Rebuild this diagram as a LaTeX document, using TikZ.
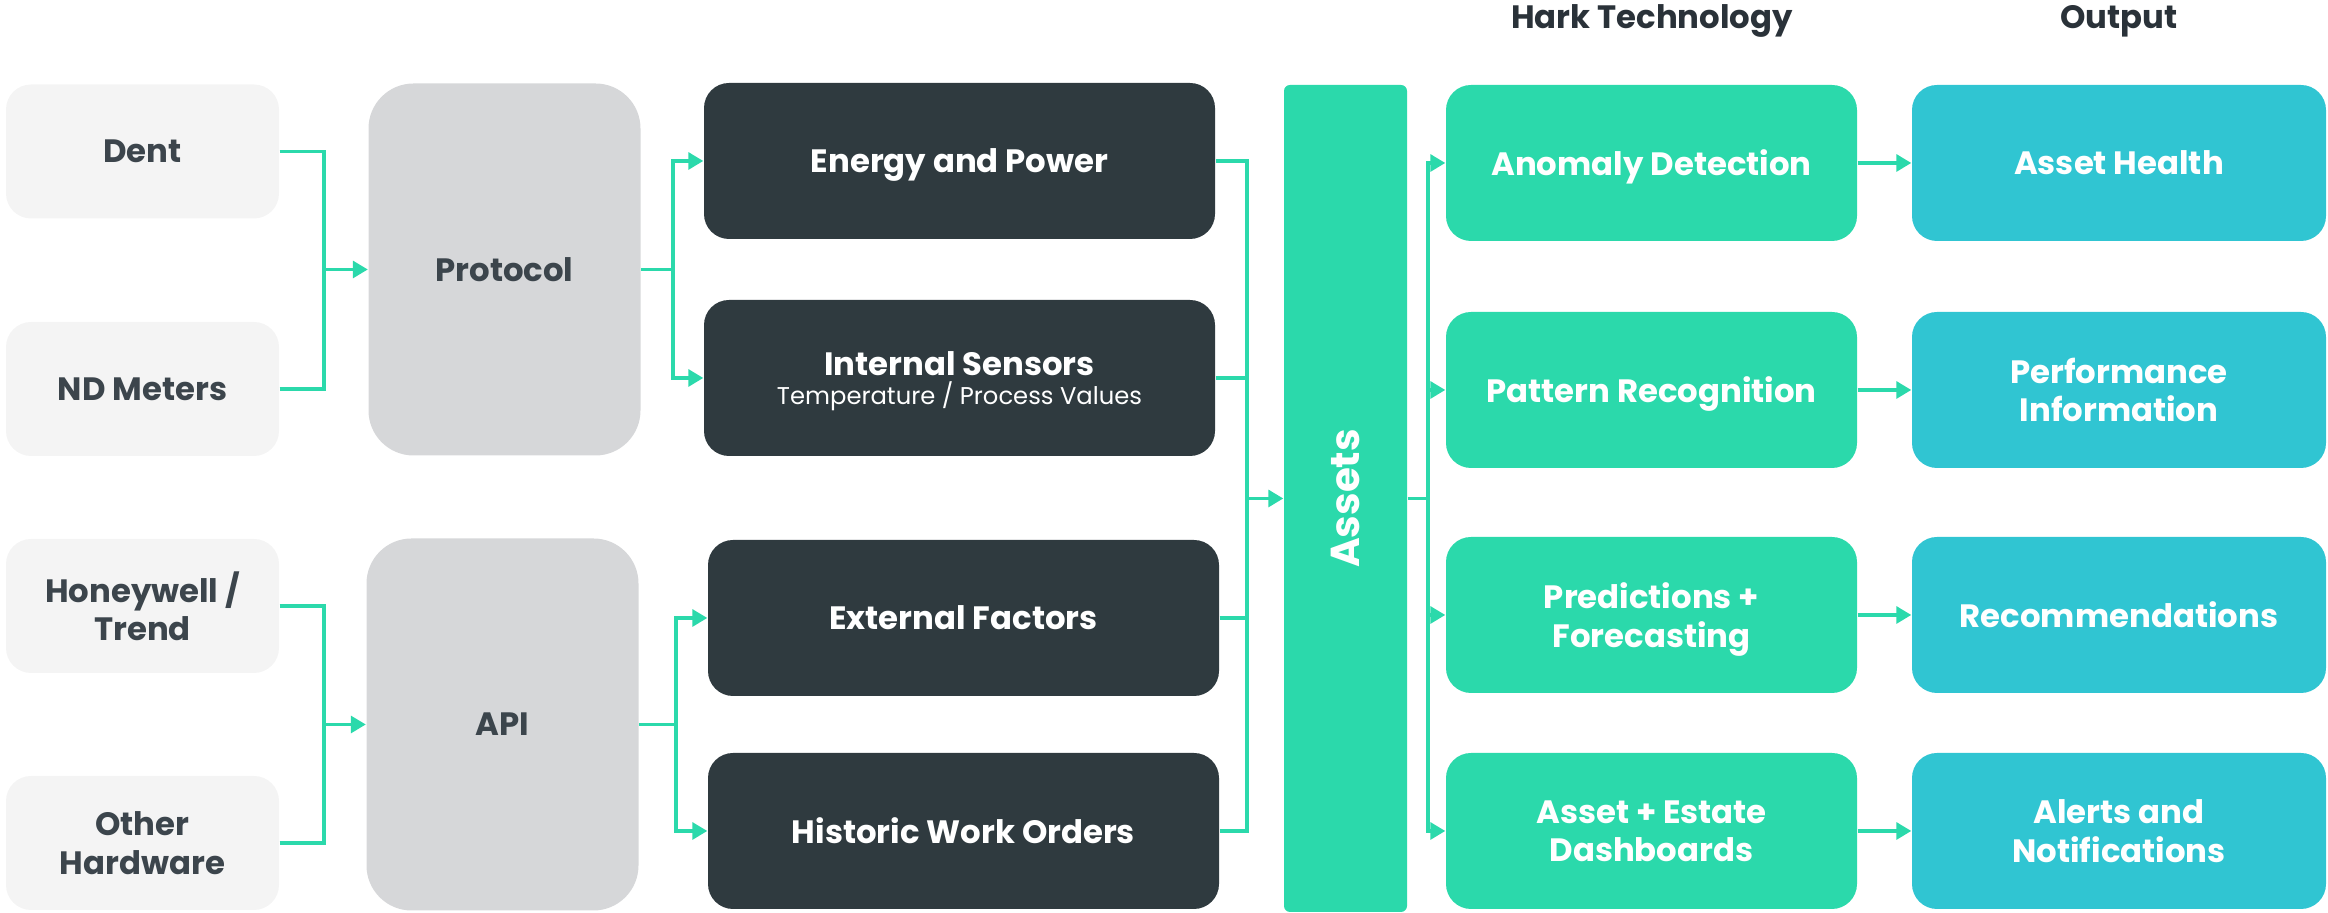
\documentclass[tikz,border=0pt]{standalone}
\usepackage{fontspec}
\setmainfont{Poppins}
\usetikzlibrary{arrows.meta,positioning}
\definecolor{srcgray}{HTML}{F4F4F4}
\definecolor{protgray}{HTML}{D6D7D9}
\definecolor{darkbox}{HTML}{2F3A3F}
\definecolor{harkgreen}{HTML}{2BD9AB}
\definecolor{outcyan}{HTML}{30C5D2}
\definecolor{txtgray}{HTML}{3C454C}
\definecolor{headgray}{HTML}{2A3239}
\begin{document}
\begin{tikzpicture}[
  font=\bfseries\fontsize{9.2}{11}\selectfont,
  srcbox/.style={fill=srcgray,text=txtgray,rounded corners=0.25cm,minimum width=2.73cm,minimum height=1.34cm,inner sep=0pt,text depth=0pt,align=center},
  protbox/.style={fill=protgray,text=txtgray,rounded corners=0.45cm,minimum width=2.72cm,minimum height=3.72cm,inner sep=0pt,text depth=0pt},
  databox/.style={fill=darkbox,text=white,rounded corners=0.25cm,minimum width=5.11cm,minimum height=1.56cm,inner sep=0pt,text depth=0pt,align=center},
  harkbox/.style={fill=harkgreen,text=white,rounded corners=0.25cm,minimum width=4.11cm,minimum height=1.56cm,inner sep=0pt,text depth=0pt,align=center},
  outbox/.style={harkbox,fill=outcyan,minimum width=4.14cm},
  link/.style={draw=harkgreen,line width=0.9pt},
  arr/.style={link,-{Triangle[length=0.15cm,width=0.17cm]}},
]
\useasboundingbox (0,0) rectangle (23.28,9.13);
% sources
\node[srcbox] (dent) at (1.425,7.615) {Dent};
\node[srcbox] (nd) at (1.425,5.24) {ND Meters};
\node[srcbox] (honey) at (1.425,3.07) {Honeywell /\\Trend};
\node[srcbox] (other) at (1.425,0.70) {Other\\Hardware};
\node[protbox] (protocol) at (5.045,6.435) {Protocol};
\node[protbox] (api) at (5.025,1.885) {API};
% data
\node[databox] (energy) at (9.595,7.52) {Energy and Power};
\node[databox] (internal) at (9.595,5.35) {Internal Sensors\\[-2.6pt]{\mdseries\fontsize{6.9}{9}\selectfont Temperature / Process Values}};
\node[databox] (external) at (9.635,2.95) {External Factors};
\node[databox] (historic) at (9.635,0.82) {Historic Work Orders};
\node[fill=harkgreen,rounded corners=0.06cm,minimum width=1.23cm,minimum height=8.27cm,inner sep=0pt] (assets) at (13.455,4.145) {};
\node[rotate=90,text=white,font=\bfseries\fontsize{11.5}{13}\selectfont] (assetslbl) at (assets.center) {Assets};
% hark + output
\node[text=headgray] (harkhead) at (16.52,8.92) {Hark Technology};
\node[text=headgray] (outhead) at (21.19,8.92) {Output};
\node[harkbox] (anomaly) at (16.515,7.50) {Anomaly Detection};
\node[harkbox] (pattern) at (16.515,5.23) {Pattern Recognition};
\node[harkbox] (predict) at (16.515,2.98) {Predictions +\\Forecasting};
\node[harkbox] (dash) at (16.515,0.82) {Asset + Estate\\Dashboards};
\node[outbox] (health) at (21.19,7.50) {Asset Health};
\node[outbox] (perf) at (21.19,5.23) {Performance\\Information};
\node[outbox] (recom) at (21.19,2.98) {Recommendations};
\node[outbox] (alerts) at (21.19,0.82) {Alerts and\\Notifications};
%
\coordinate (j1) at (3.24,6.435);
\coordinate (j2) at (6.73,6.435);
\coordinate (j3) at (3.24,1.885);
\coordinate (j4) at (6.76,1.885);
\coordinate (j5) at (12.47,4.145);
\coordinate (j6) at (14.28,4.145);
\draw[link] (dent.east) -| (j1);
\draw[link] (nd.east) -| (j1);
\draw[arr] (j1) -- (protocol.west);
\draw[link] (honey.east) -| (j3);
\draw[link] (other.east) -| (j3);
\draw[arr] (j3) -- (api.west);
\draw[link] (protocol.east) -- (j2);
\draw[arr] (j2) |- (energy.west);
\draw[arr] (j2) |- (internal.west);
\draw[link] (api.east) -- (j4);
\draw[arr] (j4) |- (external.west);
\draw[arr] (j4) |- (historic.west);
\draw[link] (energy.east) -| (j5);
\draw[link] (internal.east) -| (j5);
\draw[link] (external.east) -| (j5);
\draw[link] (historic.east) -| (j5);
\draw[arr] (j5) -- (assets.west);
\draw[link] (assets.east) -- (j6);
\draw[arr] (j6) |- (anomaly.west);
\draw[arr] (j6) |- (pattern.west);
\draw[arr] (j6) |- (predict.west);
\draw[arr] (j6) |- (dash.west);
\draw[arr] (anomaly) -- (health);
\draw[arr] (pattern) -- (perf);
\draw[arr] (predict) -- (recom);
\draw[arr] (dash) -- (alerts);
\end{tikzpicture}
\end{document}
